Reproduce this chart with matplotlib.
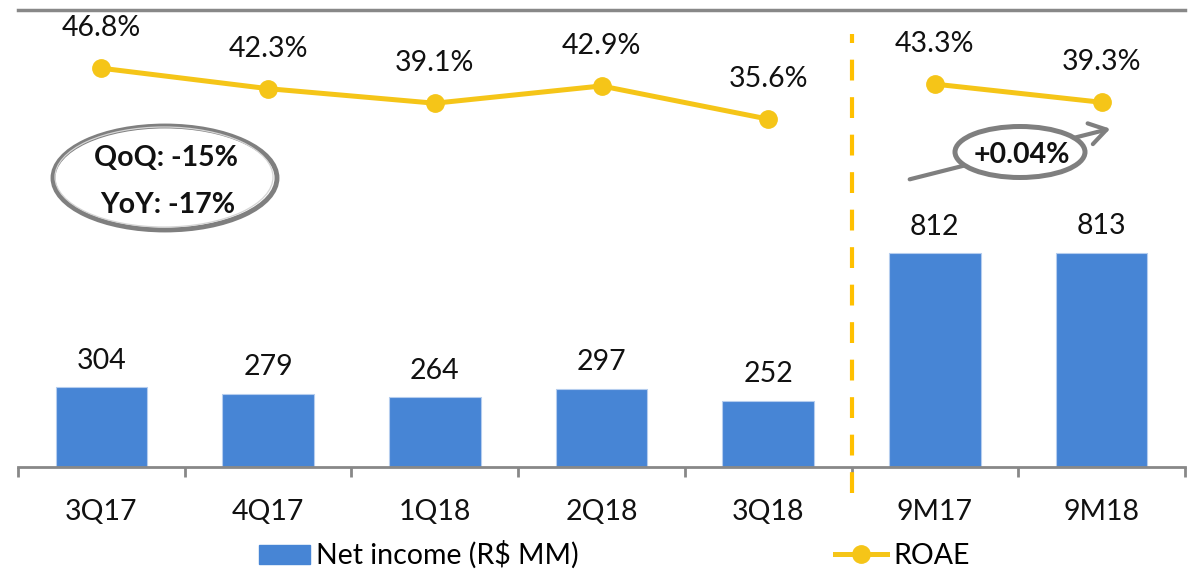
import matplotlib.pyplot as plt
from matplotlib.patches import Ellipse, FancyArrowPatch, Patch
from matplotlib.lines import Line2D
from matplotlib.transforms import blended_transform_factory
import numpy as np

plt.rcParams['font.family'] = ['Lato', 'DejaVu Sans']

periods = ['3Q17', '4Q17', '1Q18', '2Q18', '3Q18', '9M17', '9M18']
net_income = [304, 279, 264, 297, 252, 812, 813]
roae_q = [46.8, 42.3, 39.1, 42.9, 35.6]
roae_9m = [43.3, 39.3]

blue = '#4785D5'
yellow = '#F5C518'
gray = '#7f7f7f'
fs = 20.5

fig = plt.figure(figsize=(12.04, 5.75), dpi=100)
ax = fig.add_axes([18 / 1204, 1 - 467 / 575, 1167 / 1204, 457 / 575])
ax2 = ax.twinx()

x = np.arange(len(periods))
ax.bar(x, net_income, width=0.55, color=blue, edgecolor='#b5cdee', linewidth=0.8, zorder=2)
for xi, v in zip(x, net_income):
    ax.annotate(f'{v}', (xi, v), xytext=(0, 19), textcoords='offset points',
                ha='center', va='center', fontsize=fs, color='#111111')

ax.set_xlim(-0.5, len(periods) - 0.5)
ax.set_ylim(0, 1735)
ax.set_yticks([])
ax.set_xticks(x)
ax.set_xticklabels(periods, fontsize=fs, color='#111111')
ax.set_xticks(np.arange(-0.5, len(periods)), minor=True)
ax.tick_params(axis='x', which='major', length=0, pad=23)
ax.tick_params(axis='x', which='minor', length=7, width=2, color='#888888')
for s in ['left', 'right']:
    ax.spines[s].set_visible(False)
    ax2.spines[s].set_visible(False)
ax.spines['bottom'].set_color('#888888')
ax.spines['bottom'].set_linewidth(2)
ax.spines['top'].set_color('#888888')
ax.spines['top'].set_linewidth(2.5)
ax2.spines['bottom'].set_visible(False)
ax2.spines['top'].set_visible(False)

# ROAE line, broken between quarters and nine-month periods
xq = x[:len(roae_q)]
x9 = x[len(roae_q):]
for xs, vs in [(xq, roae_q), (x9, roae_9m)]:
    ax2.plot(xs, vs, color=yellow, lw=3.6, marker='o', markersize=12.5, zorder=3)
    for xi, v in zip(xs, vs):
        ax2.annotate(f'{v:.1f}%', (xi, v), xytext=(0, 28.8), textcoords='offset points',
                     ha='center', va='center', fontsize=fs, color='#111111')
ax2.set_ylim(-40.9, 59.6)
ax2.set_yticks([])

# dashed separator
tr = blended_transform_factory(ax.transData, ax.transAxes)
ax.plot([4.5, 4.5], [-0.057, 0.948], transform=tr, color='#FFC000', lw=3,
        dashes=(5, 4), clip_on=False, zorder=4)

# overlay for callouts in pixel coordinates
ov = fig.add_axes([0, 0, 1, 1], zorder=10)
ov.set_xlim(0, 1204)
ov.set_ylim(575, 0)
ov.axis('off')
ov.patch.set_alpha(0)

ov.add_patch(Ellipse((165, 178), 224, 104, facecolor='none', edgecolor=gray, lw=3.5))
ov.add_patch(Ellipse((164, 177), 218, 100, facecolor='none', edgecolor='#d5d5d5', lw=0.9))
ov.text(166, 158, 'QoQ: -15%', ha='center', va='center', fontsize=fs, fontweight='bold', color='#111111')
ov.text(168, 205, 'YoY: -17%', ha='center', va='center', fontsize=fs, fontweight='bold', color='#111111')

ov.add_patch(FancyArrowPatch((907, 180), (1113, 128), arrowstyle='->,head_length=0.55,head_width=0.35',
                             mutation_scale=22, color=gray, lw=3))
ov.add_patch(Ellipse((1020, 152), 130, 51, facecolor='white', edgecolor=gray, lw=3.6))
ov.text(1022, 155, '+0.04%', ha='center', va='center', fontsize=fs, fontweight='bold', color='#111111')

handles = [Patch(facecolor=blue, edgecolor=blue),
           Line2D([], [], color=yellow, lw=3.6, marker='o', markersize=12.5)]
fig.legend(handles, ['Net income (R$ MM)', 'ROAE'], loc='center', bbox_to_anchor=(614 / 1204, 1 - 555 / 575),
           ncol=2, frameon=False, fontsize=fs, handlelength=1.82, handleheight=0.65,
           handletextpad=0.21, columnspacing=9.0, borderpad=0)

fig.savefig('out.png', dpi=100)
